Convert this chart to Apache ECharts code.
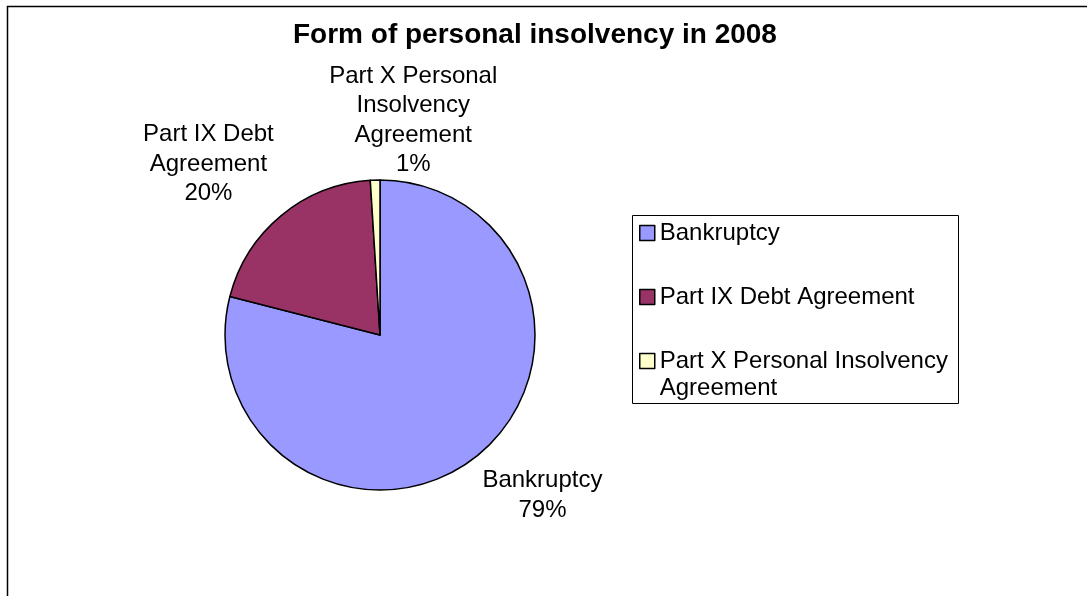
<!DOCTYPE html>
<html>
<head>
<meta charset="utf-8">
<script src="https://cdn.jsdelivr.net/npm/echarts@6/dist/echarts.min.js"></script>
<style>
  html, body { margin: 0; padding: 0; background: #fff; }
  #main { width: 1087px; height: 596px; }
</style>
</head>
<body>
<div id="main"></div>
<script>
var categories = ['Bankruptcy', 'Part IX Debt Agreement', 'Part X Personal Insolvency Agreement'];
var values = [79, 20, 1];
// how the names wrap next to the pie and in the legend
var labelNames = [['Bankruptcy'], ['Part IX Debt', 'Agreement'], ['Part X Personal', 'Insolvency', 'Agreement']];
var legendNames = [['Bankruptcy'], ['Part IX Debt Agreement'], ['Part X Personal Insolvency', 'Agreement']];

var colors = ['#9999FF', '#993366', '#FFFFCC'];
var font = 'Liberation Sans, Arial, sans-serif';

// label line lengths per slice (line itself hidden), puts labels where excel had them
var lineLen = [48, 67, 59.5];
var lineLen2 = [-27, -40.3, -129];
// legend text padding, gives the uneven row spacing of the excel legend
var legendPad = [[27, 0, 27, 0], [10, 0, 10, 0], [27, 0, 0, 0]];

var myChart = echarts.init(document.getElementById('main'));

var pieData = [];
for (var i = 0; i < categories.length; i++) {
  pieData.push({
    name: categories[i],
    value: values[i],
    labelLine: { length: lineLen[i], length2: lineLen2[i] }
  });
}

var legendData = [];
for (var j = 0; j < categories.length; j++) {
  legendData.push({
    name: categories[j],
    textStyle: { padding: legendPad[j] }
  });
}

var option = {
  animation: false,
  color: colors,
  textStyle: { fontFamily: font },
  title: {
    text: 'Form of personal insolvency in 2008',
    left: 293,
    top: 18,
    padding: 0,
    textStyle: { fontFamily: font, fontSize: 28, fontWeight: 'bold', color: '#000', lineHeight: 34 }
  },
  graphic: [
    {
      type: 'rect',
      shape: { x: 7.5, y: 6.5, width: 2000, height: 2000 },
      style: { fill: 'none', stroke: '#000', lineWidth: 1.5 },
      silent: true
    },
    {
      type: 'rect',
      shape: { x: 632.5, y: 215.5, width: 326, height: 188 },
      style: { fill: 'none', stroke: '#000', lineWidth: 1 },
      silent: true
    }
  ],
  legend: {
    orient: 'vertical',
    left: 632,
    top: 192.5,
    padding: [0, 10, 0, 7],
    itemGap: 0,
    itemWidth: 15,
    itemHeight: 15,
    icon: 'rect',
    data: legendData,
    formatter: function (name) {
      return legendNames[categories.indexOf(name)].map(function (t) {
        return '{a|' + t + '}';
      }).join('\n');
    },
    textStyle: {
      fontFamily: font, fontSize: 24, color: '#000', lineHeight: 27,
      rich: { a: { fontFamily: font, fontSize: 24, color: '#000', lineHeight: 27 } }
    },
    itemStyle: { borderColor: '#000', borderWidth: 1.5 }
  },
  series: [
    {
      type: 'pie',
      center: [380, 335],
      radius: 155,
      startAngle: 90,
      clockwise: true,
      avoidLabelOverlap: false,
      itemStyle: { borderColor: '#000', borderWidth: 1.5 },
      emphasis: { disabled: true },
      labelLine: { show: false },
      label: {
        show: true,
        position: 'outside',
        distanceToLabelLine: 5,
        color: '#000',
        fontFamily: font,
        fontSize: 24,
        lineHeight: 29.5,
        formatter: function (p) {
          var lines = labelNames[p.dataIndex].concat([Math.round(p.percent) + '%']);
          return lines.map(function (t) { return '{c|' + t + '}'; }).join('\n');
        },
        rich: {
          c: { align: 'center', fontFamily: font, fontSize: 24, lineHeight: 29.5, color: '#000' }
        }
      },
      data: pieData
    }
  ]
};

option && myChart.setOption(option);
</script>
</body>
</html>
